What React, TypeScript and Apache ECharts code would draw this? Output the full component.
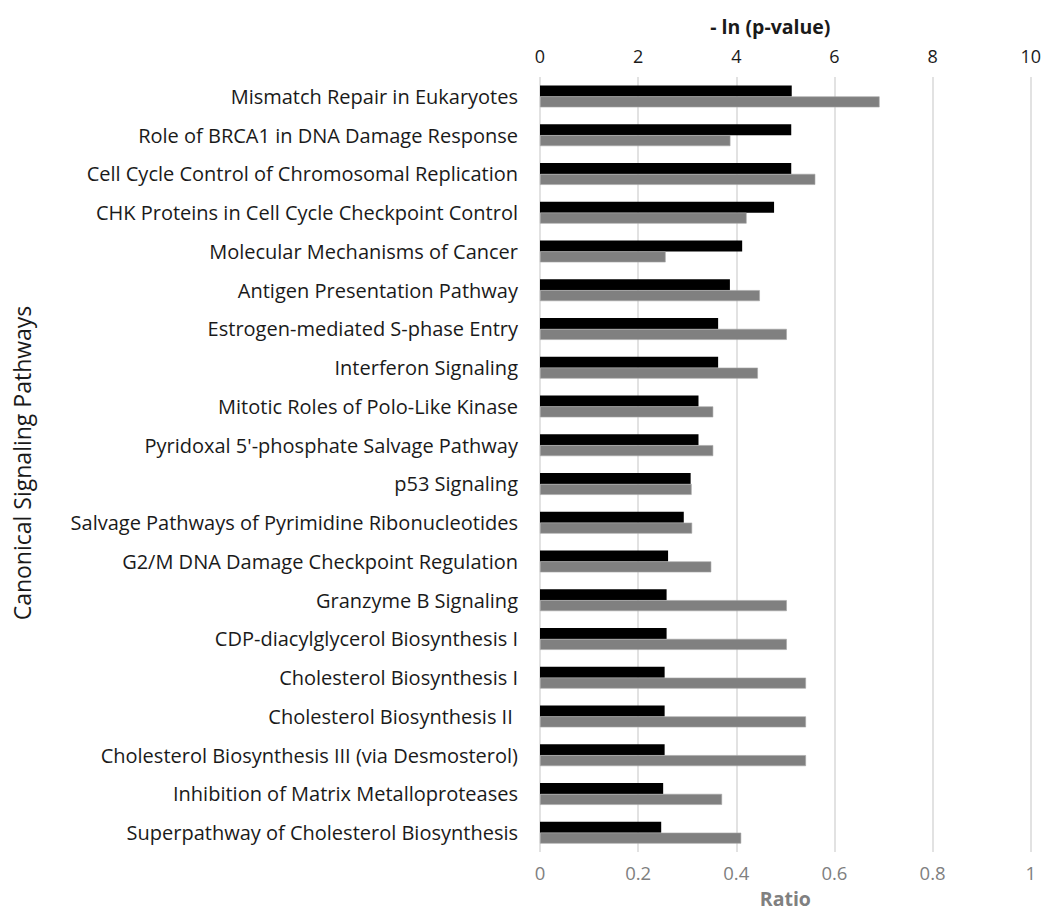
import React, { useEffect, useRef } from "react";
import * as echarts from "echarts";

const categories: string[] = [
  "Mismatch Repair in Eukaryotes",
  "Role of BRCA1 in DNA Damage Response",
  "Cell Cycle Control of Chromosomal Replication",
  "CHK Proteins in Cell Cycle Checkpoint Control",
  "Molecular Mechanisms of Cancer",
  "Antigen Presentation Pathway",
  "Estrogen-mediated S-phase Entry",
  "Interferon Signaling",
  "Mitotic Roles of Polo-Like Kinase",
  "Pyridoxal 5'-phosphate Salvage Pathway",
  "p53 Signaling",
  "Salvage Pathways of Pyrimidine Ribonucleotides",
  "G2/M DNA Damage Checkpoint Regulation",
  "Granzyme B Signaling",
  "CDP-diacylglycerol Biosynthesis I",
  "Cholesterol Biosynthesis I",
  "Cholesterol Biosynthesis II ",
  "Cholesterol Biosynthesis III (via Desmosterol)",
  "Inhibition of Matrix Metalloproteases",
  "Superpathway of Cholesterol Biosynthesis",
];

const negLnPValue: number[] = [
  5.13, 5.12, 5.12, 4.77, 4.12, 3.87, 3.63, 3.63, 3.23, 3.23,
  3.07, 2.93, 2.61, 2.58, 2.58, 2.54, 2.54, 2.54, 2.51, 2.47,
];

const ratio: number[] = [
  0.692, 0.388, 0.561, 0.421, 0.256, 0.448, 0.503, 0.444, 0.353, 0.353,
  0.309, 0.31, 0.349, 0.503, 0.503, 0.542, 0.542, 0.542, 0.371, 0.41,
];

const topAxisTitle = "- ln (p-value)";
const bottomAxisTitle = "Ratio";
const yAxisTitle = "Canonical Signaling Pathways";

const FONT = "'Open Sans', 'Noto Sans', sans-serif";

export default function App() {
  const ref = useRef<HTMLDivElement>(null);

  useEffect(() => {
    if (!ref.current) return;
    const chart = echarts.init(ref.current, null, { renderer: "svg" });
    chart.setOption({
      animation: false,
      backgroundColor: "#ffffff",
      textStyle: { fontFamily: FONT },
      grid: { left: 540, width: 501, top: 77, height: 777, containLabel: false },
      graphic: [
        {
          type: "text",
          x: 22,
          y: 463,
          rotation: Math.PI / 2,
          style: {
            text: yAxisTitle,
            fontFamily: FONT,
            fontSize: 23,
            fill: "#1a1a1a",
            align: "center",
            verticalAlign: "middle",
          },
        },
      ],
      xAxis: [
        {
          type: "value",
          position: "top",
          min: 0,
          max: 10,
          interval: 2,
          name: topAxisTitle,
          nameLocation: "middle",
          nameGap: 41,
          nameTextStyle: {
            fontFamily: FONT,
            fontSize: 19.5,
            fontWeight: "bold",
            color: "#1a1a1a",
            padding: [0, 30, 0, 0],
          },
          axisLine: { show: false },
          axisTick: { show: false },
          axisLabel: {
            fontFamily: FONT,
            fontSize: 18,
            color: "#1a1a1a",
            margin: 12,
          },
          splitLine: { show: true, lineStyle: { color: "#d9d9d9", width: 1.5 } },
        },
        {
          type: "value",
          position: "bottom",
          min: 0,
          max: 1,
          interval: 0.2,
          name: bottomAxisTitle,
          nameLocation: "middle",
          nameGap: 36,
          nameTextStyle: {
            fontFamily: FONT,
            fontSize: 19.5,
            fontWeight: "bold",
            color: "#808080",
          },
          axisLine: { show: false },
          axisTick: { show: false },
          axisLabel: {
            fontFamily: FONT,
            fontSize: 18.5,
            color: "#808080",
            margin: 11,
          },
          splitLine: { show: false },
        },
      ],
      yAxis: {
        type: "category",
        inverse: true,
        data: categories,
        axisLine: { show: false },
        axisTick: { show: false },
        axisLabel: {
          fontFamily: FONT,
          fontSize: 20,
          color: "#1a1a1a",
          margin: 22,
        },
      },
      series: [
        {
          name: topAxisTitle,
          type: "bar",
          xAxisIndex: 0,
          data: negLnPValue,
          barWidth: 11,
          barGap: "0%",
          itemStyle: { color: "#000000" },
        },
        {
          name: bottomAxisTitle,
          type: "bar",
          xAxisIndex: 1,
          data: ratio,
          barWidth: 11,
          barGap: "0%",
          itemStyle: { color: "#808080", borderColor: "#a6a6a6", borderWidth: 0.6 },
        },
      ],
    });
    return () => chart.dispose();
  }, []);

  return (
    <div
      ref={ref}
      style={{ position: "fixed", left: 0, top: 0, width: 1044, height: 913 }}
    />
  );
}
